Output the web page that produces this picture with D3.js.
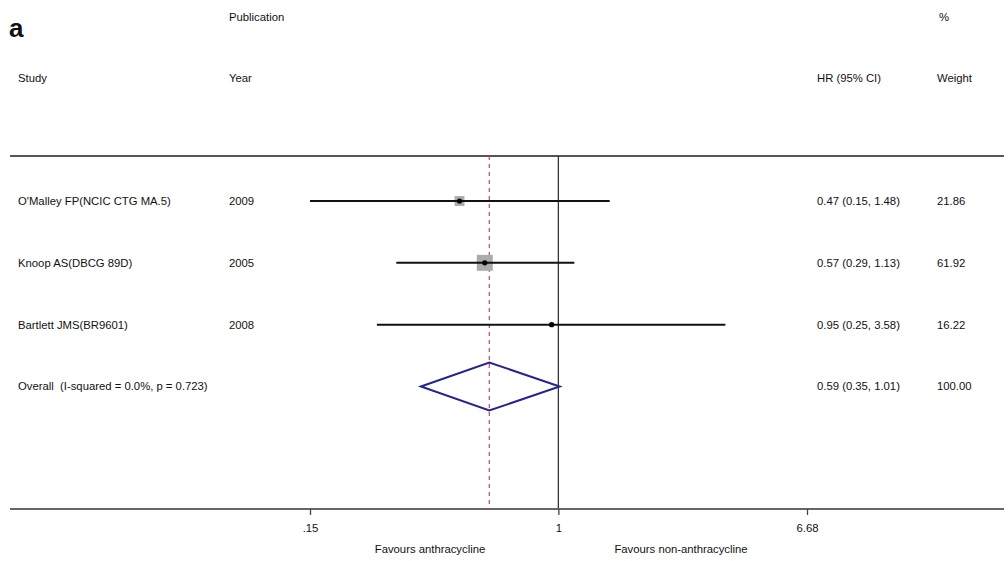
<!DOCTYPE html>
<html>
<head>
<meta charset="utf-8">
<script src="https://cdn.jsdelivr.net/npm/d3@7"></script>
<style>
  body { margin: 0; background: #fff; }
  svg { display: block; font-family: 'Liberation Sans', Arial, sans-serif; }
  text { white-space: pre; }
</style>
</head>
<body>
<div class="chart-container"></div>
<script>
// study rows
const studies = ["O'Malley FP(NCIC CTG MA.5)", 'Knoop AS(DBCG 89D)', 'Bartlett JMS(BR9601)']
const years = ['2009', '2005', '2008']
const hr = [0.47, 0.57, 0.95]
const lower = [0.15, 0.29, 0.25]
const upper = [1.48, 1.13, 3.58]
const weights = [21.86, 61.92, 16.22]
const hrLabels = ['0.47 (0.15, 1.48)', '0.57 (0.29, 1.13)', '0.95 (0.25, 3.58)']
const weightLabels = ['21.86', '61.92', '16.22']

// pooled estimate
const overallLabel = 'Overall  (I-squared = 0.0%, p = 0.723)'
const overall = {hr: 0.59, lower: 0.35, upper: 1.01}
const overallHrLabel = '0.59 (0.35, 1.01)'
const overallWeightLabel = '100.00'

// axis
const tickValues = [0.15, 1, 6.68]
const tickLabels = ['.15', '1', '6.68']
const favourLabels = ['Favours anthracycline', 'Favours non-anthracycline']

const width = 1008, height = 561
const margin = {left: 10, right: 1004, top: 156, bottom: 509}
const textColor = '#111'

const svg = d3.select('.chart-container').append('svg')
    .attr('width', width)
    .attr('height', height)

const x = d3.scaleLog()
    .domain([0.15, 6.68])
    .range([310, 807])

const y = d3.scaleLinear()
    .domain([0, 3])
    .range([201, 386.5])

// box side follows study weight
const boxSize = d3.scaleLinear()
    .domain([16, 22, 62])
    .range([4, 10, 16])

const col = {study: 18, year: 229, hr: 817, weight: 937}

function label(txt, px, py, opts) {
    opts = opts || {}
    return svg.append('text')
        .text(txt)
        .attr('x', px)
        .attr('y', py)
        .attr('dy', opts.dy || '0.35em')
        .attr('font-size', opts.size || 11.3)
        .attr('font-weight', opts.weight || 'normal')
        .attr('text-anchor', opts.anchor || 'start')
        .attr('fill', textColor)
}

// headers
label('a', 9, 28, {size: 26, weight: 'bold', dy: 0})
label('Publication', col.year, 17)
label('%', 939, 17)
label('Study', col.study, 78)
label('Year', col.year, 78)
label('HR (95% CI)', col.hr, 78)
label('Weight', col.weight, 78)

// top rule
svg.append('line')
    .attr('x1', margin.left).attr('x2', margin.right)
    .attr('y1', margin.top).attr('y2', margin.top)
    .attr('stroke', '#555').attr('stroke-width', 2)

// null line
svg.append('line')
    .attr('x1', x(1)).attr('x2', x(1))
    .attr('y1', margin.top).attr('y2', margin.bottom)
    .attr('stroke', '#333').attr('stroke-width', 1.3)

// pooled estimate line
svg.append('line')
    .attr('x1', x(overall.hr)).attr('x2', x(overall.hr))
    .attr('y1', margin.top).attr('y2', margin.bottom)
    .attr('stroke', '#cc4458').attr('stroke-width', 1.2)
    .attr('stroke-dasharray', '4,4')

const rows = studies.map((s, i) => ({
    study: s, year: years[i], hr: hr[i], lower: lower[i], upper: upper[i],
    weight: weights[i], hrLabel: hrLabels[i], weightLabel: weightLabels[i], i: i
}))

svg.selectAll('.box')
    .data(rows)
    .enter()
    .append('rect')
    .attr('x', d => x(d.hr) - boxSize(d.weight) / 2)
    .attr('y', d => y(d.i) - boxSize(d.weight) / 2)
    .attr('width', d => boxSize(d.weight))
    .attr('height', d => boxSize(d.weight))
    .attr('fill', '#ababab')

svg.selectAll('.ci')
    .data(rows)
    .enter()
    .append('line')
    .attr('x1', d => x(d.lower))
    .attr('x2', d => x(d.upper))
    .attr('y1', d => y(d.i))
    .attr('y2', d => y(d.i))
    .attr('stroke', '#111')
    .attr('stroke-width', 2)

svg.selectAll('.dot')
    .data(rows)
    .enter()
    .append('circle')
    .attr('cx', d => x(d.hr))
    .attr('cy', d => y(d.i))
    .attr('r', 2.6)
    .attr('fill', '#000')

rows.forEach(d => {
    label(d.study, col.study, y(d.i))
    label(d.year, col.year, y(d.i))
    label(d.hrLabel, col.hr, y(d.i))
    label(d.weightLabel, col.weight, y(d.i))
})

// overall diamond
const oy = y(3)
svg.append('path')
    .attr('d', d3.line()([
        [x(overall.lower), oy],
        [x(overall.hr), oy - 24],
        [x(overall.upper), oy],
        [x(overall.hr), oy + 24]
    ]) + 'Z')
    .attr('fill', 'none')
    .attr('stroke', '#24248f')
    .attr('stroke-width', 2)

label(overallLabel, col.study, oy)
label(overallHrLabel, col.hr, oy)
label(overallWeightLabel, col.weight, oy)

// bottom axis
svg.append('line')
    .attr('x1', margin.left).attr('x2', margin.right)
    .attr('y1', margin.bottom).attr('y2', margin.bottom)
    .attr('stroke', '#666').attr('stroke-width', 2)

const xAxis = d3.axisBottom(x)
    .tickValues(tickValues)
    .tickFormat((d, i) => tickLabels[i])
    .tickSize(6)
    .tickPadding(9)

const axisG = svg.append('g')
    .attr('transform', `translate(0,${margin.bottom})`)
    .call(xAxis)
axisG.select('.domain').remove()
axisG.selectAll('.tick line').attr('stroke', '#444').attr('stroke-width', 1.3)
axisG.selectAll('.tick text')
    .attr('font-size', 11.3)
    .attr('font-family', "'Liberation Sans', Arial, sans-serif")
    .attr('fill', textColor)

label(favourLabels[0], 430, 549, {anchor: 'middle'})
label(favourLabels[1], 681, 549, {anchor: 'middle'})
</script>
</body>
</html>
